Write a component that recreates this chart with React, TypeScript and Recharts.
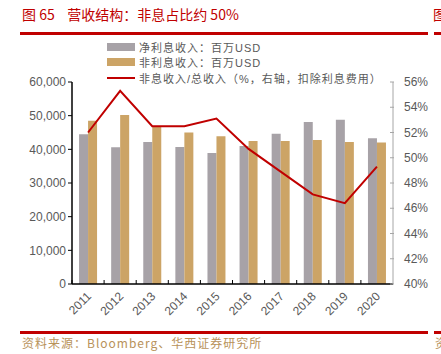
import React from 'react';
import { ComposedChart, Bar, Line, XAxis, YAxis } from 'recharts';

const years = ['2011', '2012', '2013', '2014', '2015', '2016', '2017', '2018', '2019', '2020'];
const netInterest = [44500, 40600, 42200, 40700, 38900, 41000, 44600, 48100, 48800, 43300];
const nonInterest = [48500, 50200, 46900, 45000, 43900, 42500, 42500, 42800, 42200, 42000];
const nonInterestShare = [52.0, 55.3, 52.5, 52.5, 53.1, 50.7, 48.9, 47.1, 46.4, 49.3];

const leftTicks = [0, 10000, 20000, 30000, 40000, 50000, 60000];
const rightTicks = [40, 42, 44, 46, 48, 50, 52, 54, 56];

const GRAY = '#A7A2A7';
const GOLD = '#CCA466';
const RED = '#C00000';
const TEXT = '#595959';

const data = years.map((y, i) => ({
  year: y,
  net: netInterest[i],
  non: nonInterest[i],
  share: nonInterestShare[i],
}));

const legendItems = [
  { label: '净利息收入：百万USD', color: GRAY, type: 'rect' },
  { label: '非利息收入：百万USD', color: GOLD, type: 'rect' },
  { label: '非息收入/总收入（%，右轴，扣除利息费用）', color: RED, type: 'line' },
];

const LegendBox = () => (
  <div style={{ position: 'absolute', left: 107, top: 39 }}>
    {legendItems.map((it) => (
      <div key={it.label} style={{ display: 'flex', alignItems: 'center', height: 15.5 }}>
        {it.type === 'rect' ? (
          <div style={{ width: 28, height: 8, background: it.color }} />
        ) : (
          <div style={{ width: 28, height: 2, background: it.color }} />
        )}
        <span style={{ marginLeft: 4, fontSize: 11, color: TEXT, letterSpacing: 1 }}>{it.label}</span>
      </div>
    ))}
  </div>
);

// category labels rotated 45deg, plus small inward tick marks between categories
const XTick = (props: any) => {
  const { x, y, payload, index, visibleTicksCount } = props;
  const half = 321 / years.length / 2;
  const tx = x + 4;
  const ty = y + 13;
  return (
    <g>
      {index === 0 && <line x1={x - half} y1={y - 4} x2={x - half} y2={y} stroke="#000" />}
      {index < (visibleTicksCount ?? years.length) - 1 && (
        <line x1={x + half} y1={y - 4} x2={x + half} y2={y} stroke="#000" />
      )}
      <text
        x={tx}
        y={ty}
        transform={`rotate(-45, ${tx}, ${ty})`}
        textAnchor="end"
        fontSize={12}
        fill={TEXT}
      >
        {payload.value}
      </text>
    </g>
  );
};

// right axis: tick marks point inward (to the left of the axis line)
const RightTick = (props: any) => {
  const { x, y, payload } = props;
  return (
    <g>
      <line x1={x - 5} y1={y} x2={x - 1} y2={y} stroke="#A6A6A6" />
      <text x={x + 9} y={y + 4} fontSize={12} fill={TEXT} textAnchor="start">
        {`${payload.value}%`}
      </text>
    </g>
  );
};

export default function App() {
  return (
    <div
      style={{
        position: 'fixed',
        left: 0,
        top: 0,
        width: 441,
        height: 354,
        background: '#fff',
        overflow: 'hidden',
        fontFamily: '"Liberation Sans", Arial, "Noto Sans CJK SC", sans-serif',
      }}
    >
      <div
        style={{
          position: 'absolute',
          left: 22,
          top: 4,
          fontSize: 14,
          color: RED,
          fontFamily: '"Noto Sans CJK SC", sans-serif',
          whiteSpace: 'nowrap',
        }}
      >
        图 65&nbsp;&nbsp;&nbsp;&nbsp;营收结构：非息占比约 50%
      </div>
      <div style={{ position: 'absolute', left: 433, top: 4, fontSize: 14, color: RED, fontFamily: '"Noto Sans CJK SC", sans-serif' }}>
        图
      </div>
      <div style={{ position: 'absolute', left: 20, top: 32, width: 408, height: 3, background: RED }} />
      <div style={{ position: 'absolute', left: 434, top: 32, width: 7, height: 3, background: RED }} />

      <div style={{ position: 'absolute', left: 0, top: 0 }}>
        <ComposedChart
          width={441}
          height={354}
          data={data}
          margin={{ top: 82, right: 0, bottom: 0, left: 0 }}
          barCategoryGap="22%"
          barGap={0}
        >
          <XAxis
            dataKey="year"
            tick={<XTick />}
            tickLine={false}
            tickSize={0}
            tickMargin={0}
            axisLine={{ stroke: '#000', strokeWidth: 1.5 }}
            interval={0}
            height={70}
          />
          <YAxis
            yAxisId="left"
            width={72}
            domain={[0, 60000]}
            ticks={leftTicks}
            interval={0}
            tickFormatter={(v: number) => v.toLocaleString('en-US')}
            tick={{ fontSize: 12, fill: TEXT }}
            tickLine={{ stroke: '#000' }}
            tickSize={4}
            axisLine={{ stroke: '#000', strokeWidth: 1.5 }}
          />
          <YAxis
            yAxisId="right"
            orientation="right"
            width={48}
            domain={[40, 56]}
            ticks={rightTicks}
            interval={0}
            tick={<RightTick />}
            tickLine={false}
            tickSize={0}
            axisLine={{ stroke: '#A6A6A6' }}
          />
          <Bar yAxisId="left" dataKey="net" fill={GRAY} isAnimationActive={false} />
          <Bar yAxisId="left" dataKey="non" fill={GOLD} isAnimationActive={false} />
          <Line
            yAxisId="right"
            dataKey="share"
            stroke={RED}
            strokeWidth={2}
            dot={false}
            isAnimationActive={false}
          />
        </ComposedChart>
      </div>

      <LegendBox />

      <div style={{ position: 'absolute', left: 20, top: 331, width: 408, height: 3, background: RED }} />
      <div style={{ position: 'absolute', left: 434, top: 331, width: 7, height: 3, background: RED }} />
      <div
        style={{
          position: 'absolute',
          left: 22,
          top: 334,
          fontSize: 12,
          color: '#B8925A',
          fontFamily: '"Noto Sans CJK SC", sans-serif',
          whiteSpace: 'nowrap',
          letterSpacing: 1,
        }}
      >
        资料来源：Bloomberg、华西证券研究所
      </div>
      <div style={{ position: 'absolute', left: 435, top: 334, fontSize: 12, color: '#B8925A', fontFamily: '"Noto Sans CJK SC", sans-serif' }}>
        资
      </div>
    </div>
  );
}
